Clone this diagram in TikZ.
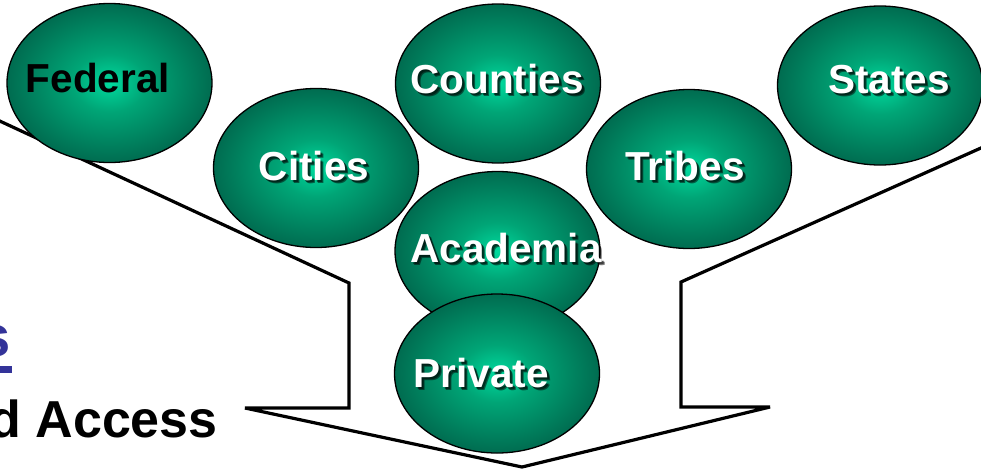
\documentclass[tikz,border=0pt]{standalone}
\usepackage{fontspec}
\setmainfont{Liberation Sans}
\usetikzlibrary{shapes.geometric,calc}
\definecolor{gcA}{RGB}{0,218,158}
\definecolor{gcB}{RGB}{0,165,118}
\definecolor{gcC}{RGB}{0,108,80}
\definecolor{linkblue}{RGB}{51,51,153}
\pgfdeclareradialshading{gball}{\pgfpoint{0bp}{0bp}}{color(0bp)=(gcA); color(9bp)=(gcB); color(25bp)=(gcC); color(50bp)=(gcC)}
\tikzset{
  ball/.style={shape=ellipse, draw=black, line width=1.3pt, shading=gball, inner sep=0pt,
    minimum width=205pt, minimum height=159pt},
  lbl/.style={text=white, font=\fontsize{40.5}{48}\selectfont\bfseries, inner sep=0pt, anchor=base},
  lblsh/.style={text=black, text opacity=0.5, font=\fontsize{40.5}{48}\selectfont\bfseries, inner sep=0pt, anchor=base},
  funnel/.style={draw=black, line width=3.2pt, line join=miter, miter limit=2.5},
}
\newcommand\glabel[3]{%
  \node[lblsh] at ($(#2)+(2,2)$) {#3};
  \node[lblsh] at ($(#2)+(3,3)$) {#3};
  \node[lbl] (#1) at (#2) {#3};}
\begin{document}
\begin{tikzpicture}[x=1pt,y=-1pt]
\useasboundingbox (0,0) rectangle (981,469);
\clip (0,0) rectangle (981,469);
\fill[white] (0,0) rectangle (981,469);
% funnel
\coordinate (f1) at (-10,116.5);
\coordinate (f2) at (349,283);
\coordinate (f3) at (349,408);
\coordinate (f4) at (245,408);
\coordinate (f5) at (522,467);
\coordinate (f6) at (770,407);
\coordinate (f7) at (681,407);
\coordinate (f8) at (681,282);
\coordinate (f9) at (991,143.5);
\draw[funnel] (f1) -- (f2) -- (f3) -- (f4) -- (f5) -- (f6) -- (f7) -- (f8) -- (f9);
% ellipses
\node[ball] (efed) at (109.5,83) {};
\node[ball] (ecou) at (498,83.5) {};
\node[ball] (esta) at (880,85.5) {};
\node[ball] (ecit) at (316,168) {};
\node[ball] (etri) at (689,169) {};
\node[ball] (eaca) at (497.5,251) {};
\node[ball] (epri) at (497,373.5) {};
% labels
\node[lbl, text=black] (tfed) at (98,92) {Federal};
\glabel{tcou}{497,93}{Counties}
\glabel{tsta}{889,93}{States}
\glabel{tcit}{314,180}{Cities}
\glabel{ttri}{685,180}{Tribes}
\glabel{taca}{506,262}{Academia}
\glabel{tpri}{481,387}{Private}
% partial text at left
\node[text=linkblue, font=\fontsize{58}{64}\selectfont\bfseries, inner sep=0pt, anchor=base east] (tlink) at (11,356) {s};
\fill[linkblue] (0,366) rectangle (12,373);
\node[text=black, font=\fontsize{52}{60}\selectfont\bfseries, inner sep=0pt, anchor=base east] (tacc) at (218,437) {d Access};
\end{tikzpicture}
\end{document}
